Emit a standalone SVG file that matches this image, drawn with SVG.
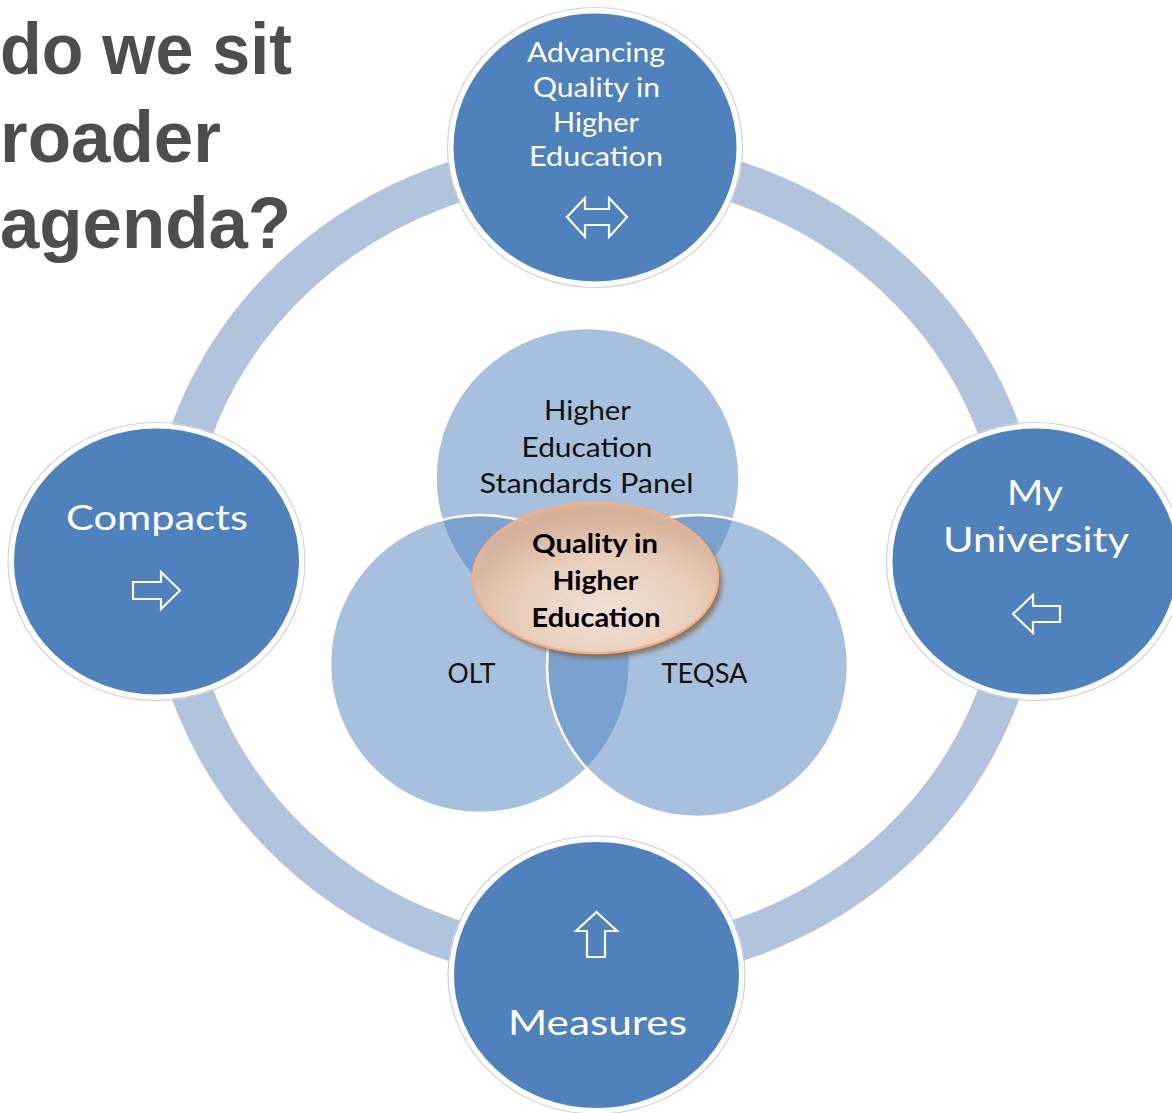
<svg xmlns="http://www.w3.org/2000/svg" width="1172" height="1113" viewBox="0 0 1172 1113">
<defs>
  <style>
    .title{font-family:"Liberation Sans",Arial,sans-serif;font-weight:bold;font-size:73px;fill:#4d4d4d}
    .node{fill:#4f81bd;stroke:#ffffff;stroke-width:5}
    .halo{fill:none;stroke:#cfd3d8;stroke-width:1.2}
    .wt{font-family:Lato,"Open Sans",sans-serif;fill:#ffffff;text-anchor:middle}
    .arrow{fill:none;stroke:#ffffff;stroke-width:2.2;stroke-linejoin:miter}
    .venn{fill:#4f81bd;fill-opacity:0.5;stroke:#ffffff;stroke-width:2.5}
    .bt{font-family:Lato,"Open Sans",sans-serif;fill:#111111;text-anchor:middle;font-size:27px}
    .ct{font-family:Lato,"Open Sans",sans-serif;fill:#000000;text-anchor:middle;font-size:27px;font-weight:bold}
  </style>
  <radialGradient id="peach" cx="0.55" cy="0.72" r="0.7">
    <stop offset="0" stop-color="#fdeee3"/>
    <stop offset="0.55" stop-color="#f2d6c2"/>
    <stop offset="1" stop-color="#d9b196"/>
  </radialGradient>
  <filter id="blur" x="-20%" y="-20%" width="140%" height="140%">
    <feGaussianBlur stdDeviation="2.5"/>
  </filter>
</defs>
<rect width="1172" height="1113" fill="#ffffff"/>

<g id="title">
  <text class="title" x="0" y="74" textLength="292" lengthAdjust="spacingAndGlyphs">do we sit</text>
  <text class="title" x="0" y="162" textLength="221" lengthAdjust="spacingAndGlyphs">roader</text>
  <text class="title" x="0" y="248" textLength="291" lengthAdjust="spacingAndGlyphs">agenda?</text>
</g>

<g id="connectors">
  <ellipse cx="595.5" cy="561.5" rx="427" ry="402" fill="none" stroke="#b2c3de" stroke-width="42"/>
</g>

<g id="node-advancing">
  <ellipse class="halo" cx="595" cy="147.5" rx="147.5" ry="140"/>
  <ellipse class="node" cx="595" cy="147.5" rx="144" ry="136.5"/>
  <text class="wt" font-size="26" x="596" y="62" textLength="138" lengthAdjust="spacingAndGlyphs">Advancing</text>
  <text class="wt" font-size="26" x="596.5" y="97" textLength="127" lengthAdjust="spacingAndGlyphs">Quality in</text>
  <text class="wt" font-size="26" x="596" y="132" textLength="86" lengthAdjust="spacingAndGlyphs">Higher</text>
  <text class="wt" font-size="26" x="596" y="166" textLength="134" lengthAdjust="spacingAndGlyphs">Education</text>
  <path class="arrow" d="M567,217 L585,198 L585,209 L609,209 L609,198 L627,217 L609,237 L609,225 L585,225 L585,237 Z"/>
</g>

<g id="node-compacts">
  <ellipse class="halo" cx="156.5" cy="561.5" rx="148.5" ry="139"/>
  <ellipse class="node" cx="156.5" cy="561.5" rx="145" ry="135.5"/>
  <text class="wt" font-size="35" x="157" y="530" textLength="182" lengthAdjust="spacingAndGlyphs">Compacts</text>
  <path class="arrow" d="M133,582 L161,582 L161,572 L180,590.5 L161,609 L161,599 L133,599 Z"/>
</g>

<g id="node-university">
  <ellipse class="halo" cx="1035" cy="561.5" rx="148.5" ry="139"/>
  <ellipse class="node" cx="1035" cy="561.5" rx="145" ry="135.5"/>
  <text class="wt" font-size="35" x="1035" y="505" textLength="56" lengthAdjust="spacingAndGlyphs">My</text>
  <text class="wt" font-size="35" x="1036" y="552" textLength="186" lengthAdjust="spacingAndGlyphs">University</text>
  <path class="arrow" d="M1060,606 L1033,606 L1033,595 L1013,614 L1033,633 L1033,622 L1060,622 Z"/>
</g>

<g id="node-measures">
  <ellipse class="halo" cx="596.5" cy="975" rx="148.5" ry="139"/>
  <ellipse class="node" cx="596.5" cy="975" rx="145" ry="135.5"/>
  <path class="arrow" d="M587,957 L587,931 L576,931 L596.5,912 L617,931 L605,931 L605,957 Z"/>
  <text class="wt" font-size="35" x="597.5" y="1035" textLength="179" lengthAdjust="spacingAndGlyphs">Measures</text>
</g>

<g id="venn-hesp">
  <ellipse class="venn" cx="587.5" cy="478" rx="152" ry="150"/>
</g>
<g id="venn-olt">
  <ellipse class="venn" cx="480" cy="664" rx="150" ry="149"/>
</g>
<g id="venn-teqsa">
  <ellipse class="venn" cx="697.5" cy="666" rx="150.5" ry="151"/>
</g>
<g id="venn-labels">
  <text class="bt" x="587.5" y="420" textLength="87" lengthAdjust="spacingAndGlyphs">Higher</text>
  <text class="bt" x="587" y="457" textLength="131" lengthAdjust="spacingAndGlyphs">Education</text>
  <text class="bt" x="586.5" y="493" textLength="214" lengthAdjust="spacingAndGlyphs">Standards Panel</text>
  <text class="bt" x="471.5" y="683" textLength="48" lengthAdjust="spacingAndGlyphs">OLT</text>
  <text class="bt" x="704.5" y="683" textLength="86" lengthAdjust="spacingAndGlyphs">TEQSA</text>
</g>

<g id="node-quality">
  <ellipse cx="599.5" cy="583" rx="122.5" ry="75" fill="#7d5c42" opacity="0.75" filter="url(#blur)"/>
  <ellipse cx="595.5" cy="578" rx="122.5" ry="75" fill="url(#peach)" fill-opacity="0.9" stroke="#f4b183" stroke-width="2.5"/>
  <text class="ct" x="595" y="553" textLength="126" lengthAdjust="spacingAndGlyphs">Quality in</text>
  <text class="ct" x="595.5" y="590" textLength="86" lengthAdjust="spacingAndGlyphs">Higher</text>
  <text class="ct" x="596" y="627" textLength="129" lengthAdjust="spacingAndGlyphs">Education</text>
</g>
</svg>
